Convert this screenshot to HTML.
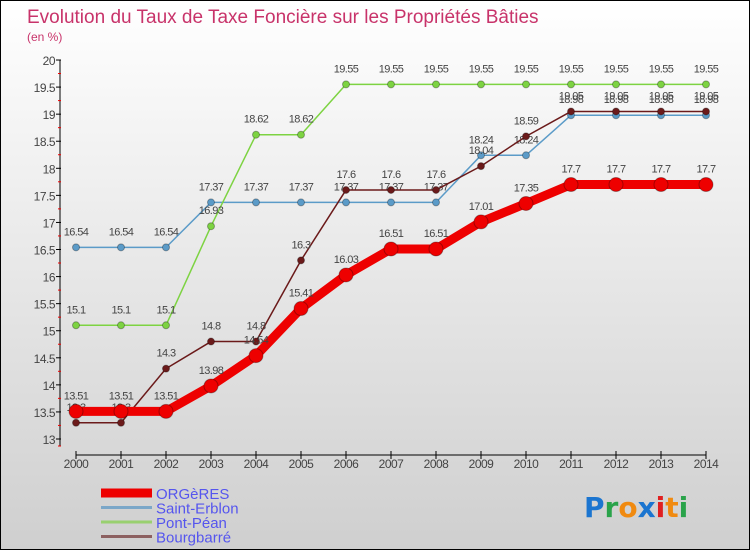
<!DOCTYPE html>
<html><head><meta charset="utf-8"><style>
html,body{margin:0;padding:0}
body{width:750px;height:550px;overflow:hidden;font-family:"Liberation Sans",sans-serif}
#wrap{position:relative;width:748px;height:548px;border:1px solid #000;background:linear-gradient(#ffffff,#cfcfcf)}
</style></head><body>
<div id="wrap">
<svg id="chart" width="748" height="548" style="position:absolute;left:0;top:0"></svg>
</div>
<script>
const years=[2000,2001,2002,2003,2004,2005,2006,2007,2008,2009,2010,2011,2012,2013,2014];
const orgeres=[13.51,13.51,13.51,13.98,14.54,15.41,16.03,16.51,16.51,17.01,17.35,17.7,17.7,17.7,17.7];
const saintErblon=[16.54,16.54,16.54,17.37,17.37,17.37,17.37,17.37,17.37,18.24,18.24,18.98,18.98,18.98,18.98];
const pontPean=[15.1,15.1,15.1,16.93,18.62,18.62,19.55,19.55,19.55,19.55,19.55,19.55,19.55,19.55,19.55];
const bourgbarre=[13.3,13.3,14.3,14.8,14.8,16.3,17.6,17.6,17.6,18.04,18.59,19.05,19.05,19.05,19.05];
const yTicks=[13,13.5,14,14.5,15,15.5,16,16.5,17,17.5,18,18.5,19,19.5,20];
const seriesNames=["ORGèRES","Saint-Erblon","Pont-Péan","Bourgbarré"];

const svg=document.getElementById('chart');
const NS='http://www.w3.org/2000/svg';
function xS(i){return 75+i*45;}
function yS(v){return 438-(v-13)*54.14;}
function mk(tag,attrs,parent){const e=document.createElementNS(NS,tag);for(const k in attrs)e.setAttribute(k,attrs[k]);(parent||svg).appendChild(e);return e;}
function fmt(v){return String(v);}

let t=mk('text',{x:26,y:22,'font-size':19,fill:'#c8336a'});t.textContent='Evolution du Taux de Taxe Foncière sur les Propriétés Bâties';

t=mk('text',{x:26,y:40,'font-size':12,fill:'#c8336a'});t.textContent='(en %)';


// axes
let ax=mk('line',{x1:59,y1:59,x2:59,y2:445,stroke:'#000'});

ax=mk('line',{x1:75,y1:454,x2:705,y2:454,stroke:'#000'});

yTicks.forEach(v=>{
  const y=yS(v);
  let l=mk('line',{x1:55,y1:y,x2:60,y2:y,stroke:'#000'});
  
  let m=mk('line',{x1:57,y1:y+13.5,x2:60,y2:y+13.5,stroke:'#e00'});
  if(v===13)m.setAttribute('y1',y+7),m.setAttribute('y2',y+7);
  
  let tx=mk('text',{x:54,y:y+5,'font-size':12,fill:'#444','text-anchor':'end','letter-spacing':'-0.5'});tx.textContent=fmt(v);
  
});
years.forEach((yr,i)=>{
  const x=xS(i);
  let l=mk('line',{x1:x,y1:450,x2:x,y2:458,stroke:'#000'});
  
  let tx=mk('text',{x:x,y:467,'font-size':12,fill:'#444','text-anchor':'middle','letter-spacing':'-0.5'});tx.textContent=yr;
  
});

function series(data,color,w,r,name,labelColor){
  const g=mk('g',{});
  
  const pts=data.map((v,i)=>xS(i)+','+yS(v)).join(' ');
  const pl=mk('polyline',{points:pts,fill:'none',stroke:color,'stroke-width':w,'stroke-linejoin':'round'},g);
  
  data.forEach((v,i)=>{
    const c=mk('circle',{cx:xS(i),cy:yS(v),r:r,fill:color,stroke:'rgba(0,0,0,0.3)','stroke-width':1},g);
    
    const tx=mk('text',{x:xS(i),y:yS(v)-12,'font-size':11,fill:'#444','text-anchor':'middle','letter-spacing':'-0.6'},g);
    tx.textContent=fmt(v);
    
  });
}
series(saintErblon,'#5b9bc8',1.5,3.5,'saint-erblon');
series(pontPean,'#7dd342',1.5,3.5,'pont-pean');
series(bourgbarre,'#6b1a1a',1.5,3.5,'bourgbarre');
series(orgeres,'#ee0000',9,7,'orgeres');

// legend
const leg=[['#ee0000',9],['#7ba7c8',3],['#99d070',3],['#8c6060',3]];
seriesNames.forEach((n,i)=>{
  const y=492+i*14.5;
  const g=mk('g',{});
  
  mk('line',{x1:100,y1:y,x2:151,y2:y,stroke:leg[i][0],'stroke-width':leg[i][1]},g);
  const tx=mk('text',{x:155,y:y+6,'font-size':15,fill:'#5555ee'},g);tx.textContent=n;
});

// logo
const logo=mk('text',{x:583,y:516,'font-size':28,'font-family':'"DejaVu Sans",sans-serif','font-weight':'bold'});

[['P','#1b75d0'],['r','#2aa34a'],['o','#f08a10'],['x','#1b75d0'],['i','#e02020'],['t','#f08a10'],['i','#2aa34a']].forEach(([c,col])=>{
  const s=mk('tspan',{fill:col},logo);s.textContent=c;
});
</script>
</body></html>
